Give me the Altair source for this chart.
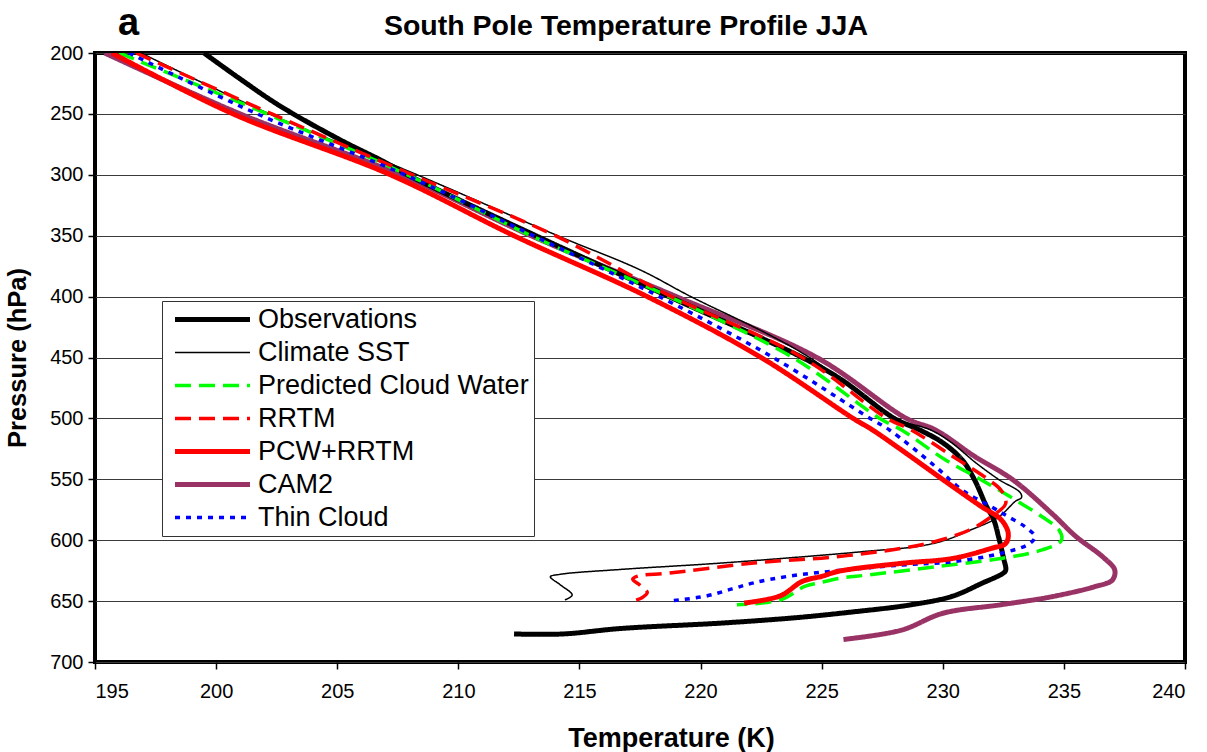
import altair as alt
import pandas as pd

# Series names, styles (legend order)
names = ["Observations", "Climate SST", "Predicted Cloud Water", "RRTM",
         "PCW+RRTM", "CAM2", "Thin Cloud"]
colors = ["#000000", "#000000", "#00FF00", "#FF0000", "#FF0000", "#993366", "#0000FF"]
widths = [5, 1.5, 3.5, 3.5, 5, 5, 3.5]
dashes = [[1, 0], [1, 0], [16, 8], [16, 8], [1, 0], [1, 0], [5, 6]]

# Temperature (K) / pressure (hPa) profiles, listed along each curve
obs_T = [199.5, 200.9, 202.6, 205.0, 207.0, 207.9, 213.2, 218.7, 224.2, 225.8,
         228.0, 229.1, 230.0, 230.8, 231.3, 231.8, 232.1, 232.3, 232.5, 232.6,
         232.5, 231.6, 230.4, 228.7, 226.0, 224.0, 220.9, 216.7, 214.3, 212.3]
obs_P = [200, 220, 243, 270, 290, 300, 350, 400, 450, 468,
         500, 510, 520, 534, 550, 572, 583, 597, 614, 624.5,
         627, 635.5, 646, 653, 659.5, 663.5, 668, 672.5, 677, 677]

sst_T = [196.9, 202.2, 208.3, 214.1, 217.5, 219.6, 222.7, 224.5, 228.1, 229.5,
         230.3, 231.4, 232.3, 233.2, 233.25, 233.0, 232.3, 231.1, 230.1, 229.0,
         226.9, 225.8, 220.9, 216.7, 214.2, 213.8, 214.2, 214.7, 214.4]
sst_P = [200, 250, 300, 350, 378, 400, 430, 450, 500, 509.5,
         519, 537, 550, 561, 565, 568, 581, 592, 600, 605,
         609, 611, 618.7, 624, 628, 630, 636.5, 645, 649]

pcw_T = [196.0, 202.1, 207.9, 213.0, 218.7, 223.8, 227.4, 228.3, 230.1, 231.6,
         233.0, 234.1, 234.8, 234.9, 234.1, 232.4, 229.7, 226.9, 225.8, 224.9,
         224.3, 223.3, 221.5]
pcw_P = [200, 250, 300, 350, 400, 450, 500, 509.5, 534, 550.5,
         567, 580.7, 591.6, 600, 608, 615, 621.8, 628.6, 631, 635,
         638, 649, 653]

rrtm_T = [196.7, 202.3, 208.1, 214.0, 218.8, 224.2, 227.7, 228.7, 230.4, 231.9,
          232.4, 232.6, 232.0, 231.1, 229.7, 228.3, 225.6, 222.2, 218.7, 217.4,
          217.2, 217.5, 217.8, 217.6, 217.3]
rrtm_P = [200, 250, 300, 350, 400, 450, 500, 509.5, 531, 550.5,
          558.8, 569.7, 580.7, 591.6, 601, 606.7, 613.6, 618.7, 627, 629.5,
          632, 637, 643, 647, 649.5]

both_T = [195.7, 200.7, 207.2, 212.3, 217.8, 222.5, 226.3, 227.1, 228.3, 230.2,
          231.6, 232.4, 232.7, 232.6, 232.0, 230.4, 228.3, 225.7, 225.0, 224.2,
          223.3, 221.8]
both_P = [200, 250, 300, 350, 400, 450, 500, 509.5, 526, 553,
          572.5, 583, 594, 602.6, 606.7, 615, 619, 625.5, 629.7, 633.8,
          645.6, 651.6]

cam_T = [195.4, 201.0, 207.6, 213.0, 219.0, 224.8, 228.5, 229.7, 231.3, 232.9,
         234.5, 235.5, 236.6, 237.1, 237.0, 236.3, 234.5, 232.4, 230.0, 228.3,
         225.9]
cam_P = [200, 250, 300, 350, 400, 450, 500, 509.5, 531, 550.5,
         578, 597, 613.6, 624.5, 632.7, 638, 646.4, 653, 660, 673.8,
         681.5]

thin_T = [196.4, 201.7, 207.8, 213.1, 218.3, 223.0, 227.0, 227.8, 229.7, 230.8,
          232.0, 232.7, 233.4, 233.8, 233.6, 232.4, 230.4, 228.3, 225.8, 223.6,
          222.2, 221.3, 220.2, 218.7]
thin_P = [200, 250, 300, 350, 400, 450, 500, 509.5, 539.6, 558.8,
          572.5, 580.7, 589, 597, 602.6, 610.8, 617.7, 620.4, 624.7, 629.7,
          635, 640, 646, 650]

# drawing order (first drawn is at the bottom)
profiles = [
    ("CAM2", cam_T, cam_P),
    ("Observations", obs_T, obs_P),
    ("Climate SST", sst_T, sst_P),
    ("Predicted Cloud Water", pcw_T, pcw_P),
    ("RRTM", rrtm_T, rrtm_P),
    ("Thin Cloud", thin_T, thin_P),
    ("PCW+RRTM", both_T, both_P),
]

rows = []
for name, ts, ps in profiles:
    for i, (t, p) in enumerate(zip(ts, ps)):
        rows.append({"series": name, "T": t, "P": p, "step": i})
df = pd.DataFrame(rows)

legend = alt.Legend(
    title=None,
    orient="none",
    legendX=67,
    legendY=248,
    direction="vertical",
    symbolType="M-0.55,0H6.95",
    symbolSize=400,
    labelFont="Liberation Sans",
    labelFontSize=27,
    labelColor="black",
    labelOffset=64,
    labelLimit=500,
    rowPadding=5,
    padding=5,
    strokeColor="#333333",
    fillColor="white",
    symbolOpacity=1,
)

lines = alt.Chart(df).mark_line(clip=True, interpolate="catmull-rom", strokeJoin="round").encode(
    x=alt.X("T:Q", scale=alt.Scale(domain=[195, 240], nice=False, zero=False),
            axis=alt.Axis(values=list(range(195, 241, 5)), title="Temperature (K)", grid=False)),
    y=alt.Y("P:Q", scale=alt.Scale(domain=[200, 700], reverse=True, nice=False, zero=False),
            axis=alt.Axis(values=list(range(200, 701, 50)), title="Pressure (hPa)", grid=True)),
    color=alt.Color("series:N", scale=alt.Scale(domain=names, range=colors), legend=legend),
    strokeDash=alt.StrokeDash("series:N", scale=alt.Scale(type="ordinal", domain=names, range=dashes),
                              legend=legend),
    strokeWidth=alt.StrokeWidth("series:N", scale=alt.Scale(type="ordinal", domain=names, range=widths),
                                legend=legend),
    order=alt.Order("step:Q"),
)

heading = pd.DataFrame({"label": ["a", "South Pole Temperature Profile JJA"]})

panel = alt.Chart(heading).transform_filter(alt.datum.label == "a").mark_text(
    font="Liberation Sans", fontSize=38, fontWeight="bold", align="left",
    baseline="alphabetic", color="black",
).encode(text="label:N", x=alt.value(23), y=alt.value(-18))

title = alt.Chart(heading).transform_filter(alt.datum.label != "a").mark_text(
    font="Liberation Sans", fontSize=28.5, fontWeight="bold", align="center",
    baseline="alphabetic", color="black",
).encode(text="label:N", x=alt.value(531), y=alt.value(-18))

chart = alt.layer(lines, panel, title).properties(
    width=1090,
    height=609,
    autosize=alt.AutoSizeParams(type="none"),
    padding={"left": 95, "top": 53, "right": 22, "bottom": 90},
).configure_view(
    stroke="black", strokeWidth=4,
).configure_axis(
    domain=False,
    tickColor="black", tickWidth=1.5, tickSize=7,
    labelColor="black", titleColor="black",
    gridColor="#3a3a3a", gridWidth=1.2,
).configure_axisX(
    labelFont="Liberation Sans", labelFontSize=20, labelPadding=12,
    titleFont="Liberation Sans", titleFontSize=27, titleFontWeight="bold", titlePadding=24,
    titleX=576,
).configure_axisY(
    labelFont="Liberation Sans", labelFontSize=20, labelPadding=5,
    titleFont="Liberation Sans", titleFontSize=25.5, titleFontWeight="bold", titlePadding=19,
)

chart.save("out.html", embed_options={"renderer": "svg", "actions": False})
